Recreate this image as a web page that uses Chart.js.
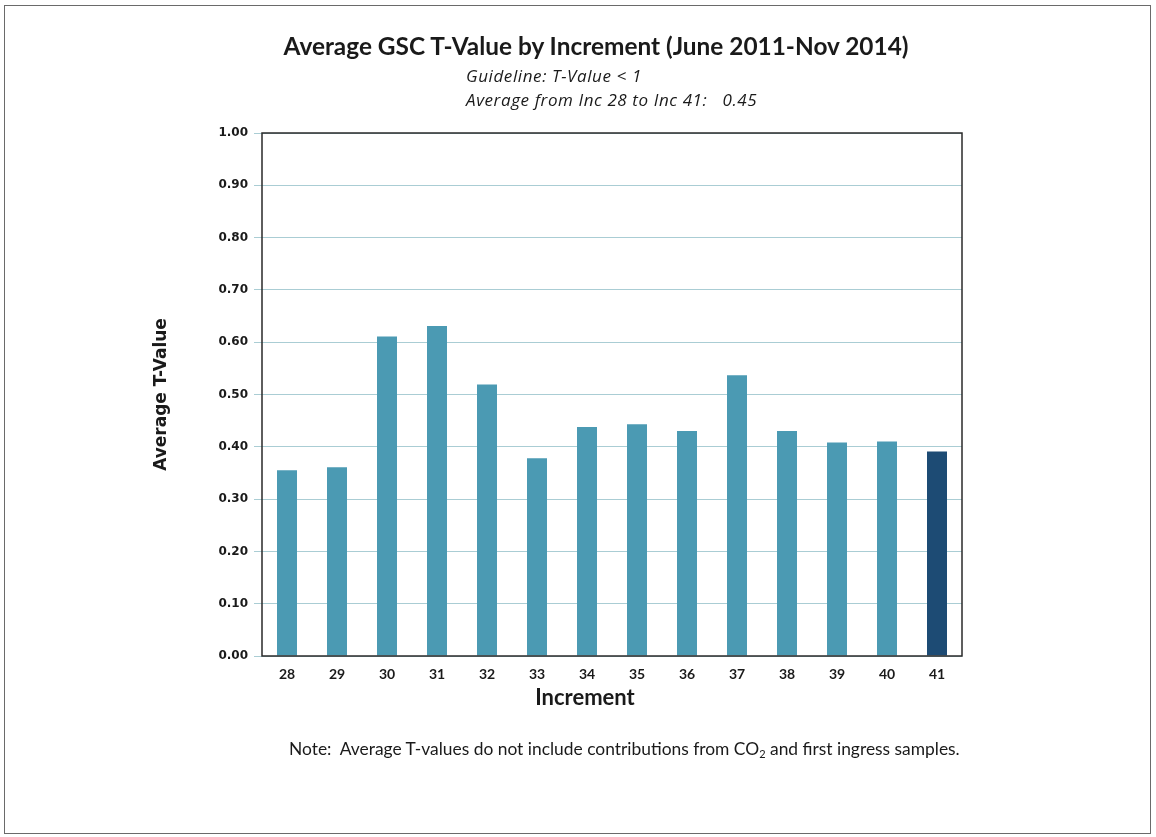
<!DOCTYPE html>
<html>
<head>
<meta charset="utf-8">
<script src="https://cdn.jsdelivr.net/npm/chart.js@4.4.1/dist/chart.umd.min.js"></script>
<style>
    html, body { margin: 0; padding: 0; background: #fff; }
    #wrap { position: relative; width: 1156px; height: 837px; overflow: hidden; }
    #frame { position: absolute; left: 4px; top: 5px; width: 1147px; height: 829px; border: 1px solid #6a6a6a; box-sizing: border-box; }
    canvas { position: absolute; left: 0; top: 0; }
    .txt { position: absolute; font-family: Lato, "Open Sans", sans-serif; color: #1a1a1a; white-space: nowrap; }
    #title { left: 0; width: 1192px; top: 31px; text-align: center; font-size: 24.4px; font-weight: bold; }
    .sub { left: 466px; font-family: "Open Sans", sans-serif; font-size: 17px; letter-spacing: 0.6px; font-style: italic; }
    #xtitle { left: 0; width: 1170px; top: 683px; text-align: center; font-size: 22px; font-weight: bold; }
    #note { left: 289px; top: 738px; font-size: 17.4px; }
    #note sub { font-size: 11px; vertical-align: -3px; }
</style>
</head>
<body>
<div id="wrap">
    <div id="frame"></div>
    <canvas id="tchart" width="1156" height="837"></canvas>
    <div class="txt" id="title">Average GSC T-Value by Increment (June 2011-Nov 2014)</div>
    <div class="txt sub" style="top:64px">Guideline: T-Value &lt; 1</div>
    <div class="txt sub" style="top:88px">Average from Inc 28 to Inc 41:&nbsp;&nbsp;&nbsp;0.45</div>
    <div class="txt" id="xtitle">Increment</div>
    <div class="txt" id="note">Note:&nbsp; Average T-values do not include contributions from CO<sub>2</sub> and first ingress samples.</div>
</div>
<script>
// increments on the x axis
var increments = ['28', '29', '30', '31', '32', '33', '34', '35', '36', '37', '38', '39', '40', '41'];
// average T-value per increment
var tValues = [0.355, 0.361, 0.611, 0.631, 0.519, 0.378, 0.438, 0.443, 0.430, 0.537, 0.430, 0.408, 0.410, 0.391];
var yMin = 0;
var yMax = 1;
var yStep = 0.1;

var barColor = '#4b9ab3';
var lastBarColor = '#1d4b74';
var barColors = increments.map((inc, i) => i === increments.length - 1 ? lastBarColor : barColor);

// box round the plot area
var plotFrame = {
    id: 'plotFrame',
    afterDraw(chart) {
        var a = chart.chartArea;
        var ctx = chart.ctx;
        ctx.save();
        ctx.strokeStyle = '#2a2a2a';
        ctx.lineWidth = 1.5;
        ctx.strokeRect(a.left, a.top, a.right - a.left, a.bottom - a.top);
        ctx.restore();
    }
};

var ctx = document.getElementById('tchart').getContext('2d');
var tChart = new Chart(ctx, {
    type: 'bar',
    data: {
        labels: increments,
        datasets: [{
            label: 'Average T-Value',
            data: tValues,
            backgroundColor: barColors,
            borderWidth: 0,
            barPercentage: 0.8,
            categoryPercentage: 0.5
        }]
    },
    options: {
        responsive: false,
        animation: false,
        layout: { padding: { left: 140, right: 194, top: 133, bottom: 116 } },
        plugins: {
            legend: { display: false },
            title: { display: false },
            tooltip: { enabled: false }
        },
        scales: {
            x: {
                grid: { display: false },
                border: { display: false },
                ticks: {
                    color: '#1a1a1a',
                    padding: 2,
                    font: { family: 'Lato', size: 14, weight: 'bold' }
                },
                afterFit: scale => { scale.height = 65; }
            },
            y: {
                min: yMin,
                max: yMax,
                grid: {
                    color: '#aacdd4',
                    lineWidth: 1,
                    tickLength: 8,
                    tickColor: '#aacdd4'
                },
                border: { display: false },
                ticks: {
                    stepSize: yStep,
                    color: '#1a1a1a',
                    padding: 6,
                    font: { family: 'DejaVu Sans', size: 12, weight: 'bold' },
                    callback: v => v.toFixed(2)
                },
                title: {
                    display: true,
                    text: 'Average T-Value',
                    color: '#1a1a1a',
                    padding: { top: 11, bottom: 0 },
                    font: { family: 'DejaVu Sans', size: 17, weight: 'bold' }
                },
                afterFit: scale => { scale.width = 122; }
            }
        }
    },
    plugins: [plotFrame]
});
</script>
</body>
</html>
